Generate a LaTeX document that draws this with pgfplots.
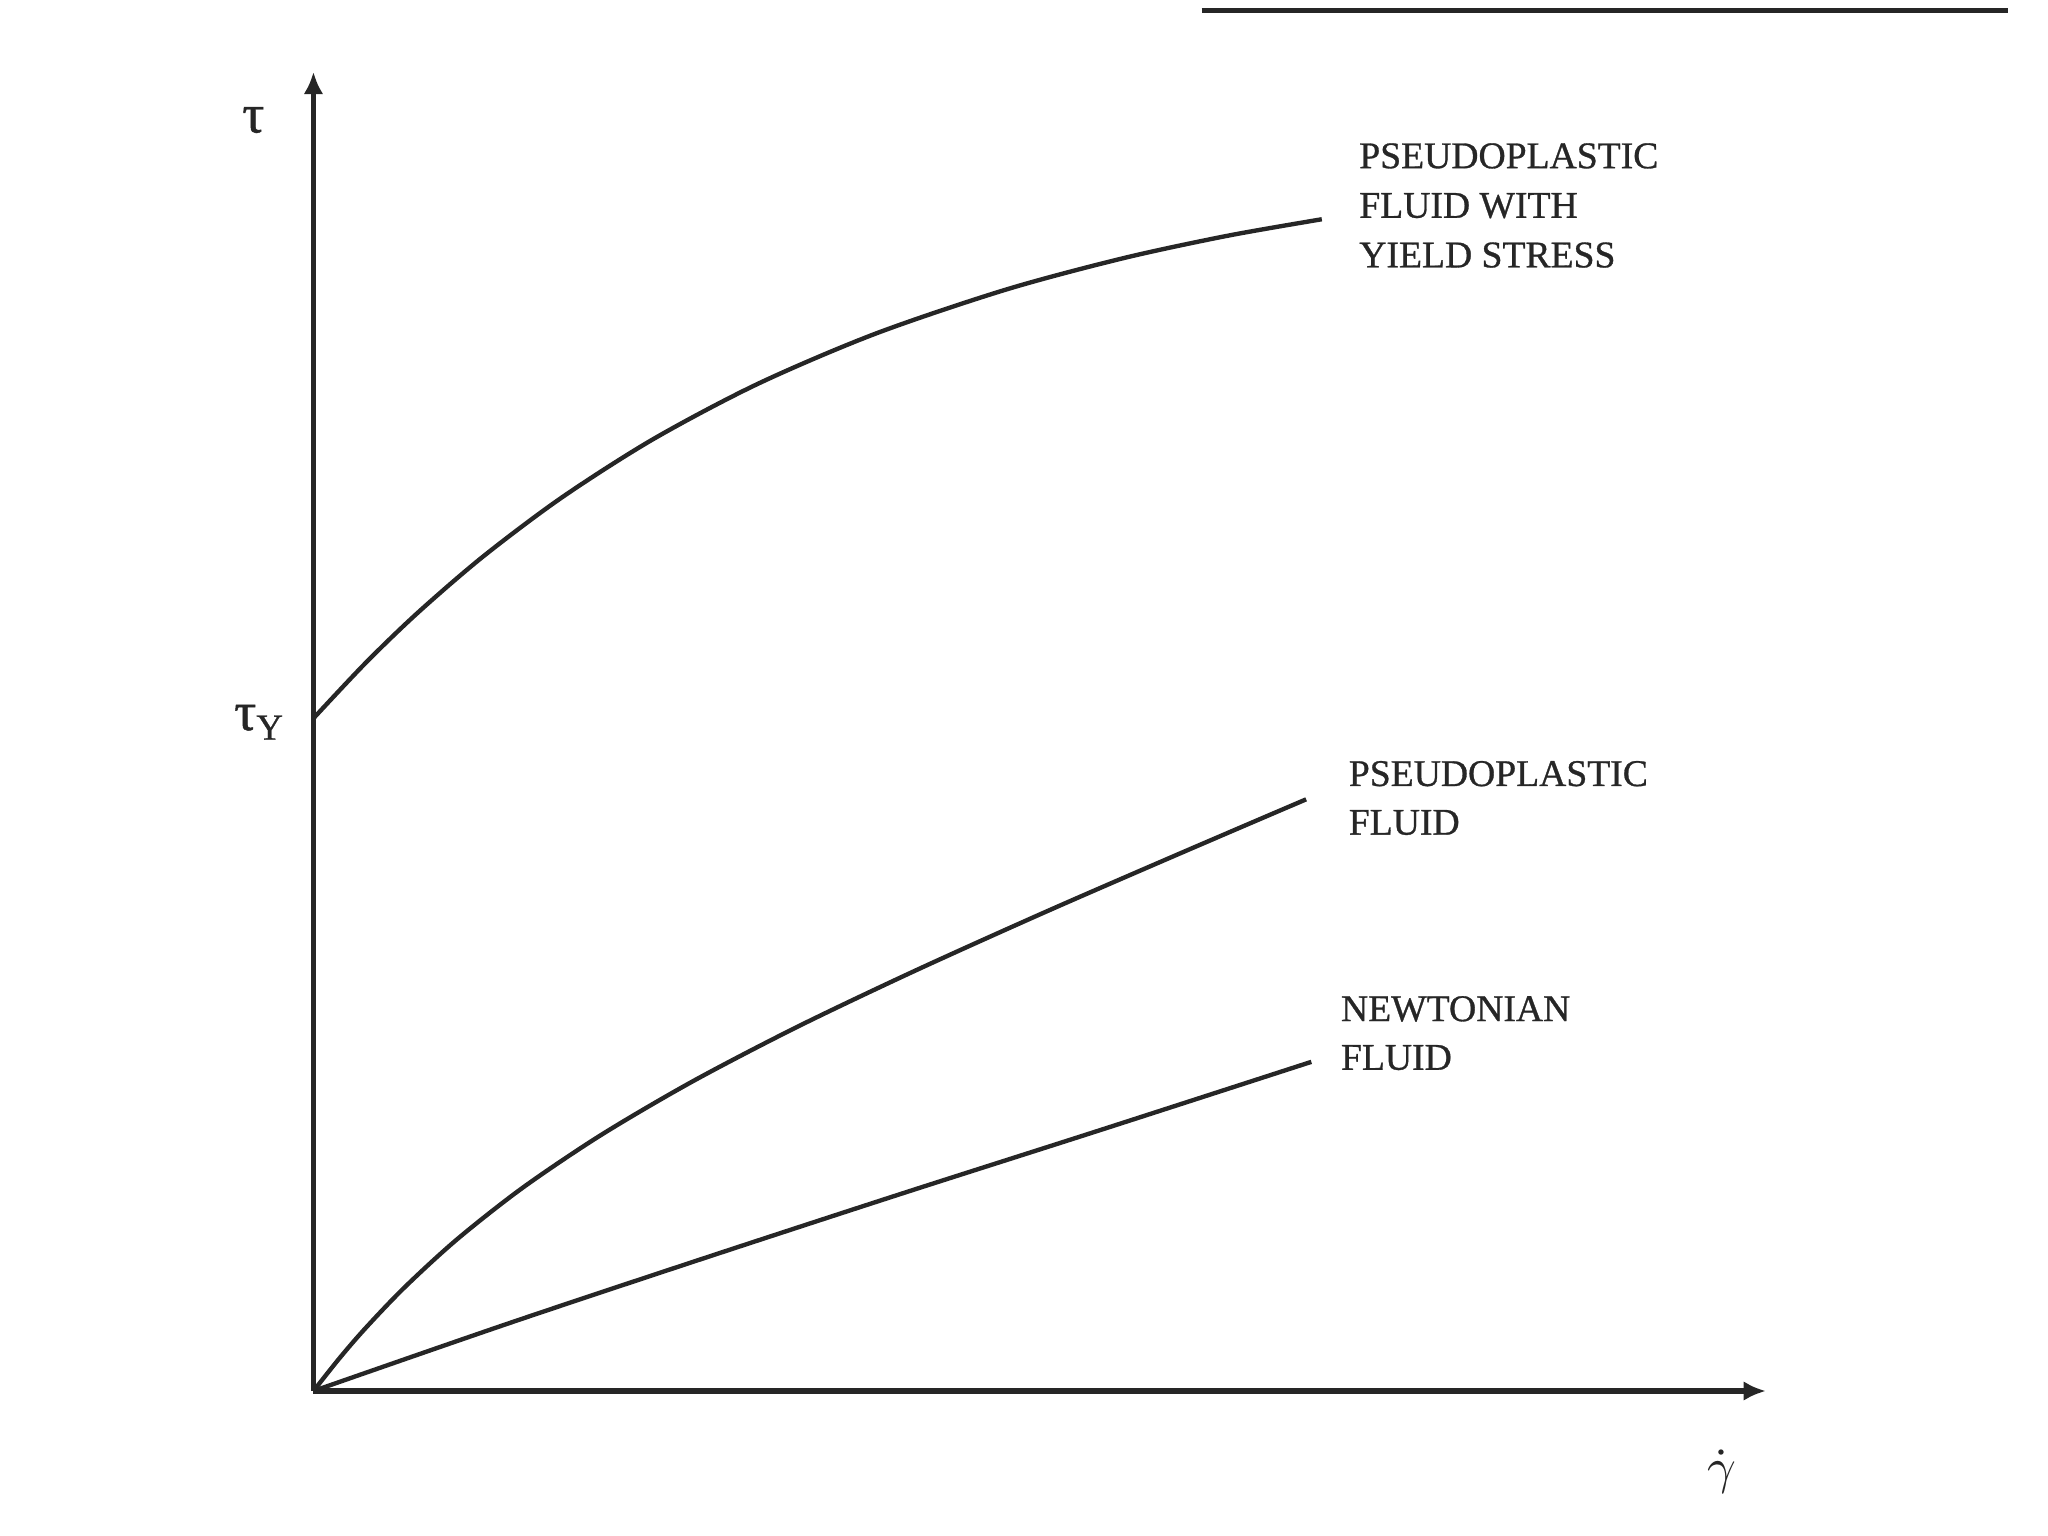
\documentclass[border=0pt]{standalone}
\usepackage{pgfplots}
\pgfplotsset{compat=1.18}
\usepackage{fontspec}
\setmainfont{Liberation Serif}
\newfontfamily\lblfont[FakeBold=0.8]{Liberation Serif}
\usetikzlibrary{arrows.meta}
\definecolor{ink}{HTML}{262626}
\begin{document}
\begin{tikzpicture}
\useasboundingbox (-2.40cm,-1.11cm) rectangle (13.28cm,10.65cm);
\begin{axis}[
  at={(0,0)}, anchor=origin,
  scale only axis, width=11.12cm, height=10.10cm,
  xmin=0, xmax=1112, ymin=0, ymax=1010,
  axis lines=left, xtick=\empty, ytick=\empty,
  axis line style={ink, line width=1.2pt},
  x axis line style={-{Latex[length=0.17cm,width=0.15cm]}},
  y axis line style={-{Latex[length=0.17cm,width=0.15cm]}},
  clip=false,
]
% Pseudoplastic fluid with yield stress
\addplot[ink, line width=0.95pt, smooth, no marks] coordinates {(0,515) (40,557.5) (80,596) (130,639) (190,684) (260,728.7) (340,771) (430,809.4) (530,843.2) (620,867.3) (700,884.5) (772,897.1)};
% Pseudoplastic fluid
\addplot[ink, line width=0.95pt, smooth, no marks] coordinates {(0,0) (20,25.2) (40,48.3) (70,79.6) (110,116.2) (160,155.5) (220,195.9) (290,236.9) (370,278.6) (460,321.5) (560,366.6) (660,410.1) (760,453)};
% Newtonian fluid
\addplot[ink, line width=0.95pt, smooth, no marks] coordinates {(0,0) (150,52) (300,102) (450,151) (600,199) (764,252)};

\node[anchor=north west, align=left, inner sep=0pt, text=ink, font=\lblfont\fontsize{8.2}{10.8}\selectfont] at (axis cs:800,956) {PSEUDOPLASTIC\\FLUID WITH\\YIELD STRESS};
\node[anchor=north west, align=left, inner sep=0pt, text=ink, font=\lblfont\fontsize{8.2}{10.6}\selectfont] at (axis cs:792,483) {PSEUDOPLASTIC\\FLUID};
\node[anchor=north west, align=left, inner sep=0pt, text=ink, font=\lblfont\fontsize{8.2}{10.6}\selectfont] at (axis cs:786,303) {NEWTONIAN\\FLUID};

\node[text=ink, font=\lblfont\fontsize{12}{14}\selectfont, inner sep=0pt] at (axis cs:-46,973) {τ};
\node[text=ink, inner sep=0pt, font=\lblfont] at (axis cs:-42,512) {{\fontsize{12}{14}\selectfont τ}\raisebox{-0.45ex}{\fontsize{8}{10}\selectfont Y}};
\node[text=ink, inner sep=0pt, font=\fontsize{11}{13}\selectfont] at (axis cs:1078,-62) {$\dot{\gamma}$};

\draw[ink, line width=1.1pt] (axis cs:680,1057) -- (axis cs:1297,1057);
\end{axis}
\end{tikzpicture}
\end{document}
